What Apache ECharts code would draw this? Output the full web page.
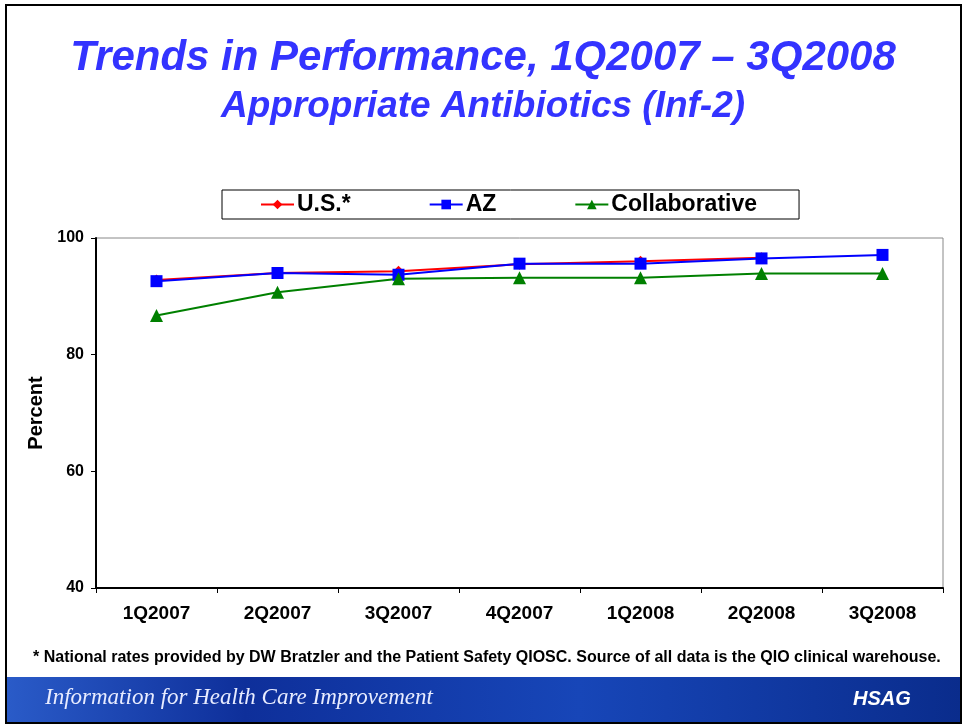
<!DOCTYPE html>
<html>
<head>
<meta charset="utf-8">
<script src="https://cdn.jsdelivr.net/npm/echarts@6/dist/echarts.min.js"></script>
<style>
	html, body { margin: 0; padding: 0; background: #fff; }
	#chart { width: 966px; height: 725px; }
</style>
</head>
<body>
<div id="chart"></div>
<script>
//data
const quarters = ['1Q2007', '2Q2007', '3Q2007', '4Q2007', '1Q2008', '2Q2008', '3Q2008'];
const usValues = [92.8, 94.0, 94.3, 95.5, 96.0, 96.6, null];
const azValues = [92.6, 94.0, 93.7, 95.6, 95.6, 96.5, 97.1];
const collabValues = [86.7, 90.7, 93.0, 93.2, 93.2, 93.9, 93.9];
const yTicks = [40, 60, 80, 100];

const FONT = '"Liberation Sans", Arial, sans-serif',
	TITLE_BLUE = '#3333ff';

var chart = echarts.init(document.getElementById('chart'));

function lineSeries(name, data, color, symbol, size) {
	return {
		name, type: 'line', data,
		symbol, symbolSize: size,
		itemStyle: { color },
		lineStyle: { color, width: 2 },
		connectNulls: false
	};
}

chart.setOption({
	animation: false,
	textStyle: { fontFamily: FONT },
	title: [
		{
			text: 'Trends in Performance, 1Q2007 \u2013 3Q2008',
			left: 'center', top: 32,
			textStyle: { color: TITLE_BLUE, fontSize: 42, fontWeight: 'bold', fontStyle: 'italic', fontFamily: FONT }
		},
		{
			text: 'Appropriate Antibiotics (Inf-2)',
			left: 'center', top: 83,
			textStyle: { color: TITLE_BLUE, fontSize: 37, fontWeight: 'bold', fontStyle: 'italic', fontFamily: FONT }
		}
	],
	legend: {
		left: 222, top: 190,
		padding: [3, 42, 3, 38],
		itemGap: 78,
		itemWidth: 33, itemHeight: 12,
		borderColor: '#000', borderWidth: 1,
		textStyle: { fontSize: 23, fontWeight: 'bold', color: '#000', fontFamily: FONT, padding: [0, 0, 0, -2] },
		data: ['U.S.*', 'AZ', 'Collaborative']
	},
	grid: { left: 96, right: 23, top: 238, bottom: 137, show: true, borderColor: '#888', borderWidth: 1 },
	xAxis: {
		type: 'category', data: quarters, boundaryGap: true,
		axisLine: { lineStyle: { color: '#000', width: 2 } },
		axisTick: { show: true, length: 5, lineStyle: { color: '#000' } },
		axisLabel: { color: '#000', fontSize: 19, fontWeight: 'bold', margin: 16, fontFamily: FONT }
	},
	yAxis: {
		type: 'value', min: yTicks[0], max: yTicks[yTicks.length - 1], interval: 20,
		name: 'Percent', nameLocation: 'middle', nameGap: 50, nameRotate: 90,
		nameTextStyle: { color: '#000', fontSize: 20, fontWeight: 'bold', fontFamily: FONT },
		splitLine: { show: false },
		axisLine: { show: true, lineStyle: { color: '#000', width: 2 } },
		axisTick: { show: true, length: 5, lineStyle: { color: '#000' } },
		axisLabel: { color: '#000', fontSize: 16, fontWeight: 'bold', margin: 12, fontFamily: FONT }
	},
	series: [
		lineSeries('U.S.*', usValues, '#ff0000', 'diamond', 11),
		lineSeries('AZ', azValues, '#0000ff', 'rect', 12),
		lineSeries('Collaborative', collabValues, '#008000', 'triangle', 13)
	],
	graphic: [
		//slide frame
		{ type: 'rect', shape: { x: 6, y: 5, width: 955, height: 718 }, style: { fill: 'none', stroke: '#000', lineWidth: 2 }, z: 100 },
		{
			type: 'text', left: 33, top: 650,
			style: {
				text: '* National rates provided by DW Bratzler and the Patient Safety QIOSC. Source of all data is the QIO clinical warehouse.',
				fill: '#000', font: 'bold 16px ' + FONT
			}
		},
		//footer banner
		{
			type: 'rect', shape: { x: 7, y: 677, width: 954, height: 45 },
			style: {
				fill: new echarts.graphic.LinearGradient(0, 0, 1, 0, [
					{ offset: 0, color: '#2a5bc8' },
					{ offset: 0.25, color: '#0e2f9a' },
					{ offset: 0.6, color: '#1746b8' },
					{ offset: 1, color: '#0a2c8c' }
				])
			}
		},
		{
			type: 'text', left: 45, top: 686,
			style: { text: 'Information for Health Care Improvement', fill: '#e8ecff', font: 'italic 23px "Liberation Serif", "DejaVu Serif", serif' }
		},
		{
			type: 'text', left: 853, top: 689,
			style: { text: 'HSAG', fill: '#ffffff', font: 'italic bold 20px ' + FONT }
		}
	]
});
</script>
</body>
</html>
